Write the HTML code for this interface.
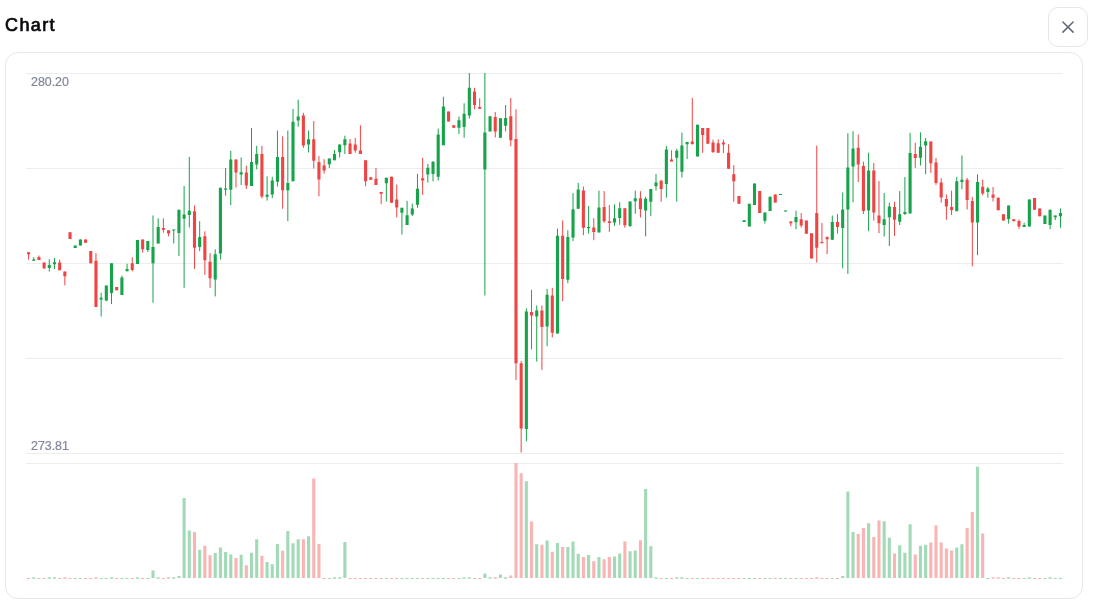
<!DOCTYPE html>
<html><head><meta charset="utf-8"><title>Chart</title>
<style>
html,body{margin:0;padding:0;background:#fff;}
body{width:1095px;height:605px;position:relative;overflow:hidden;font-family:"Liberation Sans",sans-serif;}
.title{position:absolute;left:5px;top:13.2px;font-size:18px;font-weight:400;color:#0b0b0f;-webkit-text-stroke:0.7px #0b0b0f;line-height:24px;letter-spacing:1.4px;white-space:nowrap;opacity:0.999;}
.close{position:absolute;left:1048px;top:7px;width:38px;height:38px;border:1px solid #e5e7eb;border-radius:10px;background:#fff;}
.card{position:absolute;left:5px;top:52px;width:1076px;height:545px;border:1px solid #e5e7eb;border-radius:13px;background:#fff;}
.lbl{position:absolute;left:31px;font-size:12.4px;color:#82869a;-webkit-text-stroke:0.2px #82869a;line-height:12px;white-space:nowrap;filter:blur(0.35px);}
svg{position:absolute;left:0;top:0;}
</style></head><body>
<div class="title">Chart</div>
<div class="close"></div>
<div class="card"></div>
<svg width="1095" height="605" viewBox="0 0 1095 605">
<path d="M1062.9 21.95L1073.1 32.15M1073.1 21.95L1062.9 32.15" stroke="#5f6678" stroke-width="1.5" stroke-linecap="round" fill="none"/>
<rect x="26" y="73" width="1037" height="1" fill="#ecedef"/>
<rect x="26" y="168" width="1037" height="1" fill="#ecedef"/>
<rect x="26" y="263" width="1037" height="1" fill="#ecedef"/>
<rect x="26" y="358" width="1037" height="1" fill="#ecedef"/>
<rect x="26" y="453" width="1037" height="1" fill="#ecedef"/>
<rect x="26" y="463" width="1037" height="1" fill="#ecedef"/>
<path d="M32.19 577.2h3.1V578.8h-3.1zM47.74 577.2h3.1V578.8h-3.1zM52.93 577.2h3.1V578.8h-3.1zM73.67 578.0h3.1V579.1h-3.1zM78.86 578.0h3.1V579.1h-3.1zM99.60 578.0h3.1V579.1h-3.1zM104.78 578.0h3.1V579.1h-3.1zM109.97 577.2h3.1V578.8h-3.1zM120.34 578.0h3.1V579.1h-3.1zM125.52 578.0h3.1V579.1h-3.1zM135.90 577.2h3.1V578.8h-3.1zM146.27 578.0h3.1V579.1h-3.1zM151.45 570.6h3.1V578.0h-3.1zM156.64 577.2h3.1V578.8h-3.1zM172.19 577.2h3.1V578.8h-3.1zM177.38 575.9h3.1V578.0h-3.1zM182.56 497.9h3.1V578.0h-3.1zM187.75 530.5h3.1V578.0h-3.1zM198.12 549.8h3.1V578.0h-3.1zM213.68 553.1h3.1V578.0h-3.1zM218.86 547.5h3.1V578.0h-3.1zM224.05 551.9h3.1V578.0h-3.1zM229.23 554.4h3.1V578.0h-3.1zM239.61 554.8h3.1V578.0h-3.1zM249.98 552.8h3.1V578.0h-3.1zM255.16 539.2h3.1V578.0h-3.1zM265.53 561.9h3.1V578.0h-3.1zM270.72 564.3h3.1V578.0h-3.1zM275.90 544.0h3.1V578.0h-3.1zM286.28 531.0h3.1V578.0h-3.1zM291.46 543.2h3.1V578.0h-3.1zM296.65 539.2h3.1V578.0h-3.1zM307.02 536.2h3.1V578.0h-3.1zM327.76 578.0h3.1V579.1h-3.1zM332.94 577.2h3.1V578.8h-3.1zM338.13 577.2h3.1V578.8h-3.1zM343.32 542.0h3.1V578.0h-3.1zM384.80 578.0h3.1V579.1h-3.1zM400.36 578.0h3.1V579.1h-3.1zM405.54 578.0h3.1V579.1h-3.1zM410.73 578.0h3.1V579.1h-3.1zM415.91 578.0h3.1V579.1h-3.1zM426.28 578.0h3.1V579.1h-3.1zM431.47 578.0h3.1V579.1h-3.1zM436.65 578.0h3.1V579.1h-3.1zM441.84 578.0h3.1V579.1h-3.1zM457.40 578.0h3.1V579.1h-3.1zM462.58 577.2h3.1V578.8h-3.1zM467.77 577.2h3.1V578.8h-3.1zM483.32 573.4h3.1V578.0h-3.1zM488.51 577.2h3.1V578.8h-3.1zM498.88 574.6h3.1V578.0h-3.1zM504.07 577.2h3.1V578.8h-3.1zM524.81 481.2h3.1V578.0h-3.1zM535.18 544.2h3.1V578.0h-3.1zM545.55 540.5h3.1V578.0h-3.1zM555.92 543.1h3.1V578.0h-3.1zM566.29 546.9h3.1V578.0h-3.1zM571.48 541.4h3.1V578.0h-3.1zM576.66 553.8h3.1V578.0h-3.1zM587.03 554.9h3.1V578.0h-3.1zM597.40 557.0h3.1V578.0h-3.1zM612.96 556.4h3.1V578.0h-3.1zM618.15 553.4h3.1V578.0h-3.1zM628.52 551.2h3.1V578.0h-3.1zM633.70 550.6h3.1V578.0h-3.1zM644.07 488.9h3.1V578.0h-3.1zM649.26 546.3h3.1V578.0h-3.1zM654.45 577.2h3.1V578.8h-3.1zM664.82 578.0h3.1V579.1h-3.1zM675.19 577.2h3.1V578.8h-3.1zM680.37 577.2h3.1V578.8h-3.1zM685.56 578.0h3.1V579.1h-3.1zM695.93 578.0h3.1V579.1h-3.1zM742.60 578.0h3.1V579.1h-3.1zM747.78 578.0h3.1V579.1h-3.1zM752.97 578.0h3.1V579.1h-3.1zM763.34 578.0h3.1V579.1h-3.1zM768.53 578.0h3.1V579.1h-3.1zM778.90 578.0h3.1V579.1h-3.1zM784.08 578.0h3.1V579.1h-3.1zM794.45 578.0h3.1V579.1h-3.1zM830.75 578.0h3.1V579.1h-3.1zM841.12 576.0h3.1V578.0h-3.1zM846.31 491.5h3.1V578.0h-3.1zM851.49 531.9h3.1V578.0h-3.1zM867.05 523.3h3.1V578.0h-3.1zM882.61 521.2h3.1V578.0h-3.1zM887.79 537.7h3.1V578.0h-3.1zM898.16 545.2h3.1V578.0h-3.1zM903.35 552.7h3.1V578.0h-3.1zM908.54 524.2h3.1V578.0h-3.1zM918.91 545.7h3.1V578.0h-3.1zM924.09 544.8h3.1V578.0h-3.1zM955.20 547.4h3.1V578.0h-3.1zM960.39 544.2h3.1V578.0h-3.1zM975.95 466.8h3.1V578.0h-3.1zM986.32 578.0h3.1V579.1h-3.1zM1007.06 577.2h3.1V578.8h-3.1zM1022.62 578.0h3.1V579.1h-3.1zM1027.80 577.2h3.1V578.8h-3.1zM1043.36 578.0h3.1V579.1h-3.1zM1048.54 577.2h3.1V578.8h-3.1zM1053.73 578.0h3.1V579.1h-3.1zM1058.91 578.0h3.1V579.1h-3.1z" fill="#16a34a" fill-opacity="0.4"/>
<path d="M27.00 578.0h3.1V579.1h-3.1zM37.37 578.0h3.1V579.1h-3.1zM42.56 578.0h3.1V579.1h-3.1zM58.11 578.0h3.1V579.1h-3.1zM63.30 577.2h3.1V578.8h-3.1zM68.48 578.0h3.1V579.1h-3.1zM84.04 578.0h3.1V579.1h-3.1zM89.23 578.0h3.1V579.1h-3.1zM94.41 577.2h3.1V578.8h-3.1zM115.15 578.0h3.1V579.1h-3.1zM130.71 578.0h3.1V579.1h-3.1zM141.08 578.0h3.1V579.1h-3.1zM161.82 578.0h3.1V579.1h-3.1zM167.01 577.2h3.1V578.8h-3.1zM192.94 532.1h3.1V578.0h-3.1zM203.31 545.8h3.1V578.0h-3.1zM208.49 555.2h3.1V578.0h-3.1zM234.42 558.1h3.1V578.0h-3.1zM244.79 565.2h3.1V578.0h-3.1zM260.35 555.7h3.1V578.0h-3.1zM281.09 550.8h3.1V578.0h-3.1zM301.83 539.2h3.1V578.0h-3.1zM312.20 478.4h3.1V578.0h-3.1zM317.39 544.0h3.1V578.0h-3.1zM322.57 578.0h3.1V579.1h-3.1zM348.50 578.0h3.1V579.1h-3.1zM353.69 578.0h3.1V579.1h-3.1zM358.87 578.0h3.1V579.1h-3.1zM364.06 578.0h3.1V579.1h-3.1zM369.24 578.0h3.1V579.1h-3.1zM374.43 578.0h3.1V579.1h-3.1zM379.61 578.0h3.1V579.1h-3.1zM389.99 578.0h3.1V579.1h-3.1zM395.17 578.0h3.1V579.1h-3.1zM421.10 578.0h3.1V579.1h-3.1zM447.03 578.0h3.1V579.1h-3.1zM452.21 578.0h3.1V579.1h-3.1zM472.95 578.0h3.1V579.1h-3.1zM478.14 578.0h3.1V579.1h-3.1zM493.69 577.2h3.1V578.8h-3.1zM509.25 575.6h3.1V578.0h-3.1zM514.44 463.2h3.1V578.0h-3.1zM519.62 473.3h3.1V578.0h-3.1zM529.99 521.6h3.1V578.0h-3.1zM540.36 544.8h3.1V578.0h-3.1zM550.74 551.7h3.1V578.0h-3.1zM561.11 546.9h3.1V578.0h-3.1zM581.85 557.0h3.1V578.0h-3.1zM592.22 561.3h3.1V578.0h-3.1zM602.59 559.2h3.1V578.0h-3.1zM607.78 557.0h3.1V578.0h-3.1zM623.33 541.4h3.1V578.0h-3.1zM638.89 540.3h3.1V578.0h-3.1zM659.63 578.0h3.1V579.1h-3.1zM670.00 578.0h3.1V579.1h-3.1zM690.74 578.0h3.1V579.1h-3.1zM701.12 578.0h3.1V579.1h-3.1zM706.30 578.0h3.1V579.1h-3.1zM711.49 578.0h3.1V579.1h-3.1zM716.67 578.0h3.1V579.1h-3.1zM721.86 578.0h3.1V579.1h-3.1zM727.04 578.0h3.1V579.1h-3.1zM732.23 578.0h3.1V579.1h-3.1zM737.41 578.0h3.1V579.1h-3.1zM758.16 578.0h3.1V579.1h-3.1zM773.71 578.0h3.1V579.1h-3.1zM789.27 578.0h3.1V579.1h-3.1zM799.64 578.0h3.1V579.1h-3.1zM804.83 578.0h3.1V579.1h-3.1zM810.01 578.0h3.1V579.1h-3.1zM815.20 577.2h3.1V578.8h-3.1zM820.38 578.0h3.1V579.1h-3.1zM825.57 578.0h3.1V579.1h-3.1zM835.94 578.0h3.1V579.1h-3.1zM856.68 534.1h3.1V578.0h-3.1zM861.87 528.0h3.1V578.0h-3.1zM872.24 537.1h3.1V578.0h-3.1zM877.42 520.5h3.1V578.0h-3.1zM892.98 553.4h3.1V578.0h-3.1zM913.72 554.5h3.1V578.0h-3.1zM929.28 542.6h3.1V578.0h-3.1zM934.46 525.5h3.1V578.0h-3.1zM939.65 542.6h3.1V578.0h-3.1zM944.83 548.4h3.1V578.0h-3.1zM950.02 550.6h3.1V578.0h-3.1zM965.58 528.0h3.1V578.0h-3.1zM970.76 511.9h3.1V578.0h-3.1zM981.13 533.4h3.1V578.0h-3.1zM991.50 577.2h3.1V578.8h-3.1zM996.69 577.2h3.1V578.8h-3.1zM1001.87 578.0h3.1V579.1h-3.1zM1012.25 578.0h3.1V579.1h-3.1zM1017.43 578.0h3.1V579.1h-3.1zM1032.99 578.0h3.1V579.1h-3.1zM1038.17 578.0h3.1V579.1h-3.1z" fill="#ef4444" fill-opacity="0.4"/>
<path d="M33.74 257.2V260.8M49.29 259.2V271.6M54.48 257.9V269.1M75.22 245.6V248.0M80.41 239.4V245.5M101.15 292.7V316.5M106.33 285.6V301.3M111.52 263.3V304.1M121.89 275.7V295.1M127.07 263.8V271.3M137.45 239.9V264.1M147.82 241.0V251.8M153.00 215.5V302.7M158.19 218.3V243.6M173.74 229.5V243.5M178.93 209.7V256.0M184.12 186.0V287.8M189.30 156.9V227.5M199.67 221.2V251.2M215.23 249.3V296.4M220.41 187.7V259.5M225.60 168.0V195.6M230.78 150.8V205.2M241.16 157.4V185.0M251.53 128.0V186.0M256.71 145.9V169.3M267.08 176.3V200.6M272.27 176.8V198.1M277.45 130.5V186.6M287.83 130.5V221.2M293.01 109.0V181.2M298.20 99.6V126.7M308.57 130.5V152.5M329.31 158.4V168.1M334.49 150.1V160.2M339.68 144.6V157.4M344.87 135.7V154.0M386.35 177.7V201.5M401.91 207.8V234.5M407.09 200.8V225.1M412.28 203.6V216.0M417.46 173.9V207.8M427.83 164.0V182.6M433.02 161.2V181.3M438.20 128.6V180.5M443.39 96.7V145.2M458.95 116.5V134.0M464.13 103.3V137.7M469.32 73.0V118.7M484.87 73.0V295.5M490.06 116.2V131.4M500.43 118.2V137.7M505.62 105.0V131.4M526.36 308.3V441.3M536.73 305.5V361.6M547.10 288.9V346.3M557.47 228.6V333.6M567.84 230.3V283.1M573.03 193.1V241.0M578.21 182.9V208.8M588.58 206.0V233.6M598.95 190.6V232.4M614.51 204.3V225.8M619.70 202.2V224.8M630.07 201.4V227.0M635.25 190.6V213.7M645.62 196.7V236.4M650.81 188.9V216.2M656.00 174.0V190.6M666.37 145.9V197.7M676.74 148.7V201.7M681.92 132.6V177.5M687.11 142.0V159.1M697.48 124.7V156.4M744.15 220.3V222.0M749.33 203.8V226.4M754.52 183.5V205.0M764.89 212.6V223.6M770.08 196.7V210.9M780.45 193.9V195.0M785.63 210.4V211.6M796.00 210.7V229.2M832.30 215.5V239.8M842.67 192.5V268.4M847.86 133.2V273.9M853.04 131.2V202.3M868.60 152.7V231.2M884.16 193.1V236.5M889.34 202.8V246.1M899.71 191.1V225.0M904.90 177.0V215.0M910.09 132.9V213.4M920.46 132.4V165.5M925.64 137.9V174.2M956.75 177.0V211.2M961.94 155.5V189.1M977.50 174.3V255.2M987.87 187.0V197.8M1008.61 205.6V223.6M1024.17 222.8V227.0M1029.35 199.4V226.4M1044.91 215.6V223.9M1050.09 209.7V229.2M1055.28 215.6V220.1M1060.46 208.5V227.7" stroke="#16a34a" stroke-width="1" fill="none"/>
<path d="M28.55 252.2V259.6M38.92 255.5V260.0M44.11 262.5V269.2M59.66 259.7V270.3M64.85 271.6V285.3M70.03 232.2V239.0M85.59 239.4V242.7M90.78 250.9V263.3M95.96 253.1V307.1M116.70 287.0V290.3M132.26 257.2V271.3M142.63 239.4V252.6M163.37 218.3V232.6M168.56 230.3V236.3M194.49 205.5V268.8M204.86 231.3V274.9M210.04 253.2V287.8M235.97 159.4V187.5M246.34 165.7V189.0M261.90 145.9V198.4M282.64 136.3V208.8M303.38 112.8V147.9M313.75 121.1V168.5M318.94 156.1V196.3M324.12 159.2V173.7M350.05 139.0V154.0M355.24 138.0V152.7M360.42 125.3V154.0M365.61 160.2V186.3M370.79 177.2V179.7M375.98 168.1V185.0M381.16 192.0V204.1M391.54 176.7V202.8M396.72 184.6V217.4M422.65 157.9V194.9M448.58 111.6V121.5M453.76 125.3V127.8M474.50 87.8V109.3M479.69 98.3V108.8M495.25 112.1V137.4M510.80 98.0V146.3M515.99 109.3V380.1M521.17 360.8V452.5M531.54 289.8V349.3M541.91 305.5V369.9M552.29 287.8V337.4M562.66 220.4V301.3M583.40 186.5V235.2M593.77 218.2V240.2M604.14 191.1V222.9M609.33 205.0V231.9M624.88 208.3V227.8M640.44 191.2V217.5M661.18 180.6V201.7M671.55 150.3V161.4M692.29 97.9V144.2M702.66 128.0V152.8M707.85 128.0V143.7M713.04 139.6V153.0M718.22 139.3V152.8M723.41 139.6V153.1M728.59 144.2V168.8M733.78 165.2V201.7M738.96 196.0V203.8M759.71 191.1V212.9M775.26 194.4V202.6M790.82 221.4V226.2M801.19 213.1V227.5M806.38 220.6V233.7M811.56 233.2V258.5M816.75 145.6V262.6M821.93 223.0V243.2M827.12 236.5V254.0M837.49 213.9V233.7M858.23 134.5V182.0M863.42 161.7V214.0M873.79 163.0V220.5M878.97 181.2V233.2M894.53 201.8V235.9M915.27 142.8V167.9M930.83 141.5V172.9M936.01 158.0V184.8M941.20 178.2V202.7M946.38 194.4V219.7M951.57 190.7V215.0M967.13 177.9V209.5M972.31 196.9V266.3M982.68 179.6V195.3M993.05 187.0V201.4M998.24 197.0V210.2M1003.42 214.3V220.6M1013.79 219.3V221.2M1018.98 219.3V228.8M1034.54 198.1V209.7M1039.72 208.5V216.3" stroke="#ef4444" stroke-width="1" fill="none"/>
<path d="M32.19 259.4h3.1V260.8h-3.1zM47.74 265.0h3.1V268.0h-3.1zM52.93 262.3h3.1V264.2h-3.1zM73.67 245.6h3.1V248.0h-3.1zM78.86 239.4h3.1V245.5h-3.1zM99.60 297.7h3.1V299.4h-3.1zM104.78 285.6h3.1V300.5h-3.1zM109.97 263.3h3.1V293.1h-3.1zM120.34 277.4h3.1V295.1h-3.1zM125.52 269.1h3.1V271.3h-3.1zM135.90 239.9h3.1V264.1h-3.1zM146.27 241.0h3.1V250.1h-3.1zM151.45 246.9h3.1V263.2h-3.1zM156.64 227.0h3.1V243.6h-3.1zM172.19 229.5h3.1V230.6h-3.1zM177.38 209.7h3.1V232.9h-3.1zM182.56 214.6h3.1V218.8h-3.1zM187.75 210.8h3.1V215.0h-3.1zM198.12 236.9h3.1V246.9h-3.1zM213.68 254.2h3.1V279.5h-3.1zM218.86 187.7h3.1V253.4h-3.1zM224.05 188.5h3.1V189.7h-3.1zM229.23 159.4h3.1V189.8h-3.1zM239.61 172.3h3.1V174.6h-3.1zM249.98 161.9h3.1V186.0h-3.1zM255.16 154.1h3.1V164.4h-3.1zM265.53 194.8h3.1V196.8h-3.1zM270.72 180.6h3.1V194.5h-3.1zM275.90 156.9h3.1V181.8h-3.1zM286.28 182.9h3.1V190.2h-3.1zM291.46 121.7h3.1V181.2h-3.1zM296.65 116.4h3.1V120.6h-3.1zM307.02 139.3h3.1V144.5h-3.1zM327.76 158.4h3.1V164.2h-3.1zM332.94 154.1h3.1V160.2h-3.1zM338.13 144.6h3.1V152.2h-3.1zM343.32 139.3h3.1V145.3h-3.1zM384.80 177.7h3.1V183.3h-3.1zM400.36 207.8h3.1V212.7h-3.1zM405.54 215.2h3.1V225.1h-3.1zM410.73 208.6h3.1V214.4h-3.1zM415.91 188.8h3.1V204.8h-3.1zM426.28 167.8h3.1V174.4h-3.1zM431.47 161.8h3.1V173.9h-3.1zM436.65 134.4h3.1V176.7h-3.1zM441.84 106.6h3.1V145.2h-3.1zM457.40 120.3h3.1V127.8h-3.1zM462.58 113.7h3.1V126.9h-3.1zM467.77 87.8h3.1V115.4h-3.1zM483.32 132.4h3.1V169.5h-3.1zM488.51 116.2h3.1V131.4h-3.1zM498.88 118.2h3.1V137.7h-3.1zM504.07 117.9h3.1V125.8h-3.1zM524.81 311.6h3.1V429.0h-3.1zM535.18 310.4h3.1V316.5h-3.1zM545.55 294.7h3.1V326.4h-3.1zM555.92 235.7h3.1V333.6h-3.1zM566.29 236.9h3.1V279.8h-3.1zM571.48 209.3h3.1V237.4h-3.1zM576.66 189.5h3.1V208.8h-3.1zM587.03 227.0h3.1V228.2h-3.1zM597.40 207.6h3.1V232.4h-3.1zM612.96 218.2h3.1V222.5h-3.1zM618.15 208.3h3.1V217.9h-3.1zM628.52 201.4h3.1V225.9h-3.1zM633.70 198.2h3.1V201.3h-3.1zM644.07 198.8h3.1V210.4h-3.1zM649.26 188.9h3.1V201.7h-3.1zM654.45 182.4h3.1V186.2h-3.1zM664.82 149.5h3.1V184.0h-3.1zM675.19 150.8h3.1V157.8h-3.1zM680.37 145.4h3.1V171.8h-3.1zM685.56 142.0h3.1V144.2h-3.1zM695.93 124.7h3.1V156.4h-3.1zM742.60 220.3h3.1V222.0h-3.1zM747.78 203.8h3.1V226.4h-3.1zM752.97 183.5h3.1V205.0h-3.1zM763.34 212.6h3.1V220.8h-3.1zM768.53 196.7h3.1V210.9h-3.1zM778.90 193.9h3.1V195.0h-3.1zM784.08 210.4h3.1V211.6h-3.1zM794.45 217.1h3.1V222.3h-3.1zM830.75 222.1h3.1V239.8h-3.1zM841.12 209.4h3.1V227.9h-3.1zM846.31 167.6h3.1V209.4h-3.1zM851.49 148.4h3.1V166.6h-3.1zM867.05 170.4h3.1V210.6h-3.1zM882.61 219.3h3.1V225.0h-3.1zM887.79 206.4h3.1V217.3h-3.1zM898.16 214.3h3.1V221.7h-3.1zM903.35 211.9h3.1V214.0h-3.1zM908.54 153.1h3.1V213.4h-3.1zM918.91 146.8h3.1V157.7h-3.1zM924.09 141.2h3.1V145.6h-3.1zM955.20 181.2h3.1V211.2h-3.1zM960.39 179.8h3.1V182.0h-3.1zM975.95 182.1h3.1V222.6h-3.1zM986.32 188.6h3.1V192.0h-3.1zM1007.06 205.6h3.1V219.0h-3.1zM1022.62 225.0h3.1V227.0h-3.1zM1027.80 199.4h3.1V226.4h-3.1zM1043.36 215.6h3.1V223.9h-3.1zM1048.54 209.7h3.1V225.0h-3.1zM1053.73 215.6h3.1V217.3h-3.1zM1058.91 213.0h3.1V216.3h-3.1z" fill="#16a34a"/>
<path d="M27.00 252.2h3.1V254.2h-3.1zM37.37 257.0h3.1V260.0h-3.1zM42.56 262.5h3.1V268.3h-3.1zM58.11 262.5h3.1V270.3h-3.1zM63.30 271.6h3.1V276.2h-3.1zM68.48 232.2h3.1V239.0h-3.1zM84.04 239.4h3.1V242.7h-3.1zM89.23 250.9h3.1V263.3h-3.1zM94.41 260.8h3.1V307.1h-3.1zM115.15 287.0h3.1V290.3h-3.1zM130.71 263.3h3.1V270.0h-3.1zM141.08 239.4h3.1V249.3h-3.1zM161.82 227.9h3.1V229.8h-3.1zM167.01 230.3h3.1V233.6h-3.1zM192.94 211.3h3.1V247.7h-3.1zM203.31 236.3h3.1V260.2h-3.1zM208.49 261.7h3.1V278.2h-3.1zM234.42 159.4h3.1V172.6h-3.1zM244.79 172.6h3.1V185.4h-3.1zM260.35 154.1h3.1V196.4h-3.1zM281.09 156.9h3.1V190.2h-3.1zM301.83 115.6h3.1V145.4h-3.1zM312.20 139.3h3.1V160.7h-3.1zM317.39 161.9h3.1V179.6h-3.1zM322.57 165.4h3.1V170.4h-3.1zM348.50 143.4h3.1V154.0h-3.1zM353.69 144.5h3.1V150.6h-3.1zM358.87 150.4h3.1V154.0h-3.1zM364.06 160.2h3.1V181.3h-3.1zM369.24 177.2h3.1V179.7h-3.1zM374.43 178.8h3.1V185.0h-3.1zM379.61 192.0h3.1V193.7h-3.1zM389.99 176.7h3.1V202.8h-3.1zM395.17 199.5h3.1V207.4h-3.1zM421.10 178.3h3.1V180.5h-3.1zM447.03 111.6h3.1V121.5h-3.1zM452.21 125.3h3.1V127.8h-3.1zM472.95 91.4h3.1V105.0h-3.1zM478.14 107.1h3.1V108.8h-3.1zM493.69 117.0h3.1V131.4h-3.1zM509.25 116.2h3.1V140.2h-3.1zM514.44 139.0h3.1V363.3h-3.1zM519.62 363.3h3.1V428.6h-3.1zM529.99 312.1h3.1V315.4h-3.1zM540.36 310.4h3.1V326.9h-3.1zM550.74 295.5h3.1V332.7h-3.1zM561.11 235.7h3.1V279.0h-3.1zM581.85 190.6h3.1V227.8h-3.1zM592.22 227.5h3.1V232.0h-3.1zM602.59 207.1h3.1V221.2h-3.1zM607.78 221.2h3.1V222.9h-3.1zM623.33 208.3h3.1V225.3h-3.1zM638.89 198.3h3.1V209.3h-3.1zM659.63 180.6h3.1V188.9h-3.1zM670.00 159.4h3.1V161.4h-3.1zM690.74 141.6h3.1V144.2h-3.1zM701.12 128.0h3.1V135.0h-3.1zM706.30 128.0h3.1V143.7h-3.1zM711.49 142.6h3.1V152.0h-3.1zM716.67 143.2h3.1V152.8h-3.1zM721.86 142.5h3.1V144.5h-3.1zM727.04 152.8h3.1V168.8h-3.1zM732.23 174.2h3.1V181.2h-3.1zM737.41 196.0h3.1V203.8h-3.1zM758.16 191.1h3.1V212.9h-3.1zM773.71 194.4h3.1V202.6h-3.1zM789.27 221.4h3.1V223.2h-3.1zM799.64 219.3h3.1V225.4h-3.1zM804.83 220.6h3.1V233.7h-3.1zM810.01 233.2h3.1V258.5h-3.1zM815.20 213.1h3.1V247.8h-3.1zM820.38 242.0h3.1V243.2h-3.1zM825.57 237.0h3.1V239.2h-3.1zM835.94 222.1h3.1V227.1h-3.1zM856.68 147.8h3.1V164.6h-3.1zM861.87 166.0h3.1V211.0h-3.1zM872.24 170.4h3.1V212.4h-3.1zM877.42 215.5h3.1V223.3h-3.1zM892.98 207.0h3.1V219.7h-3.1zM913.72 153.9h3.1V158.0h-3.1zM929.28 141.5h3.1V163.3h-3.1zM934.46 162.6h3.1V183.1h-3.1zM939.65 182.5h3.1V197.5h-3.1zM944.83 199.0h3.1V206.6h-3.1zM950.02 207.0h3.1V210.0h-3.1zM965.58 179.8h3.1V200.0h-3.1zM970.76 201.0h3.1V222.6h-3.1zM981.13 186.8h3.1V193.6h-3.1zM991.50 194.5h3.1V197.8h-3.1zM996.69 198.1h3.1V210.2h-3.1zM1001.87 214.3h3.1V220.6h-3.1zM1012.25 219.3h3.1V221.2h-3.1zM1017.43 221.0h3.1V226.5h-3.1zM1032.99 198.1h3.1V209.7h-3.1zM1038.17 208.5h3.1V216.3h-3.1z" fill="#ef4444"/>
</svg>
<div class="lbl" style="top:75.8px">280.20</div>
<div class="lbl" style="top:440.2px">273.81</div>
</body></html>
